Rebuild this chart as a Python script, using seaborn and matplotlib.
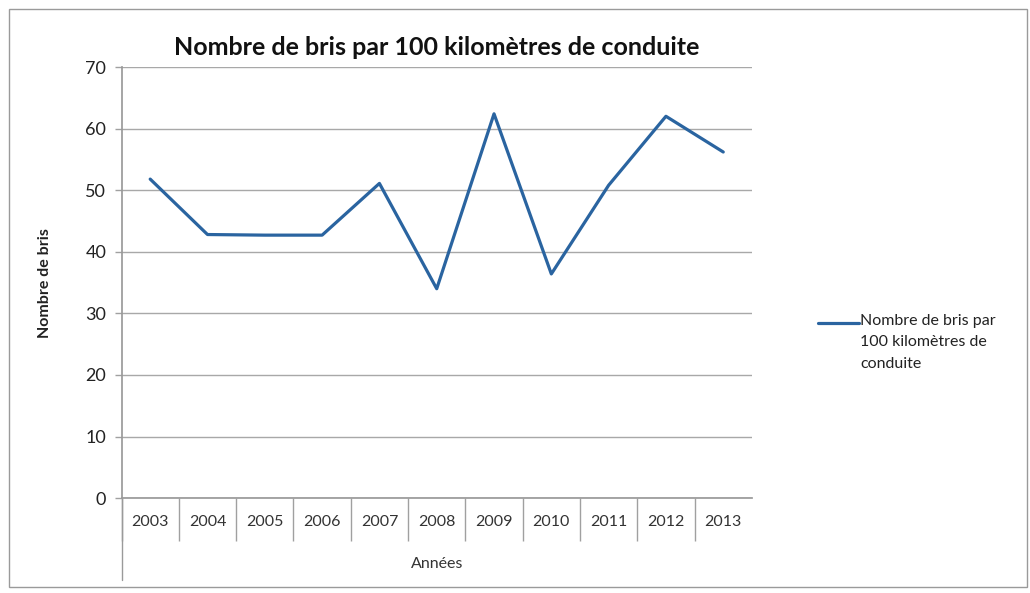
import matplotlib
matplotlib.use("Agg")
import matplotlib.pyplot as plt
import seaborn as sns
import pandas as pd
from matplotlib.lines import Line2D
from matplotlib.patches import Rectangle

# data
annees = ['2003', '2004', '2005', '2006', '2007', '2008', '2009', '2010', '2011', '2012', '2013']
bris = [51.8, 42.8, 42.7, 42.7, 51.1, 34.0, 62.4, 36.4, 50.8, 62.0, 56.2]
y_ticks = [0, 10, 20, 30, 40, 50, 60, 70]

serie = 'Nombre de bris par\n100 kilomètres de\nconduite'
couleur = '#2a64a0'
df = pd.DataFrame({'Années': annees, 'Nombre de bris': bris})

sns.set_theme(style='white')
plt.rcParams['font.family'] = ['Lato', 'DejaVu Sans']

fig = plt.figure(figsize=(10.3, 5.93), dpi=100)
ax = fig.add_axes([0.118, 0.16, 0.612, 0.727])

sns.lineplot(data=df, x='Années', y='Nombre de bris', ax=ax,
             color=couleur, linewidth=2.3, sort=False)

ax.set_xlim(-0.5, len(annees) - 0.5)
ax.set_ylim(0, 70)
ax.set_yticks(y_ticks)
ax.yaxis.grid(True, color='#a8a8a8', linewidth=1.0)
ax.set_axisbelow(True)

for s in ['top', 'right']:
    ax.spines[s].set_visible(False)
ax.spines['left'].set_color('#9a9a9a')
ax.spines['bottom'].set_color('#9a9a9a')

# category separators under the axis (none after the last year)
ax.set_xticks([i - 0.5 for i in range(len(annees))], minor=True)
ax.tick_params(axis='x', which='minor', bottom=True, length=31, color='#a0a0a0',
               width=1.0, direction='out')
ax.tick_params(axis='x', which='major', bottom=False, length=0, pad=12,
               labelsize=11.5, labelcolor='#333333')
ax.tick_params(axis='y', which='major', length=5, color='#a0a0a0', width=1.0,
               left=True, pad=6, labelsize=13, labelcolor='#222222')

# left axis line continues down past labels
ax.add_line(Line2D([0, 0], [0, -0.19], transform=ax.transAxes, color='#9a9a9a',
                   linewidth=1.0, clip_on=False))

ax.set_xlabel('Années', fontsize=11.5, color='#333333', labelpad=8)
ax.set_ylabel('Nombre de bris', fontsize=11.5, fontweight='bold', color='#222222', labelpad=24)
ax.set_title('Nombre de bris par 100 kilomètres de conduite', fontsize=18,
             fontweight='bold', color='#111111', pad=9)

# legend: key beside the first line of a wrapped label
fig.add_artist(Line2D([0.794, 0.834], [0.455, 0.455], transform=fig.transFigure,
                      color=couleur, linewidth=2.3))
fig.text(0.835, 0.470, serie, transform=fig.transFigure, ha='left', va='top',
         fontsize=11.5, color='#222222', linespacing=1.65)

fig.patches.append(Rectangle((0.009, 0.01), 0.988, 0.975, transform=fig.transFigure,
                             fill=False, edgecolor='#9a9a9a', linewidth=1.0))

fig.savefig('out.png', dpi=100)
